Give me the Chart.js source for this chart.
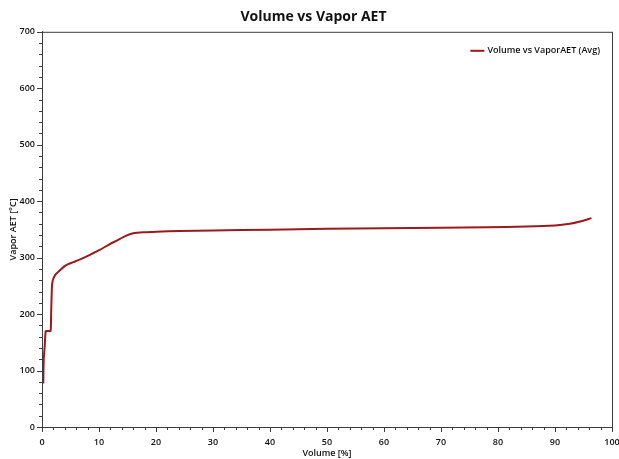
<!DOCTYPE html>
<html>
<head>
<meta charset="utf-8">
<script src="https://cdn.jsdelivr.net/npm/chart.js@4"></script>
<style>
  html, body { margin: 0; padding: 0; background: #fff; }
  #wrap { width: 619px; height: 459px; }
</style>
</head>
<body>
<div id="wrap"><canvas id="chart" width="619" height="459"></canvas></div>
<script>
const volume = [0.23, 0.3, 0.47, 0.65, 1.0, 1.5, 1.6, 1.75, 1.9, 2.3, 3.2, 4.3, 5.5, 6.7, 8.4, 10.2, 11.9, 13.1, 14.6, 16.0, 17.8, 20.1, 24.2, 30, 40, 50, 60, 70, 78, 85, 90, 92.6, 94.4, 96.4];
const vaporAET = [77, 119, 142, 170, 170, 170, 200, 250, 260, 269, 278, 287, 292, 297, 305, 314, 324, 330, 338, 343, 345, 346, 347, 348, 349.5, 351, 352, 353, 353.7, 355, 357, 360, 364, 370];
const xTicks = [0, 10, 20, 30, 40, 50, 60, 70, 80, 90, 100];
const yTicks = [0, 100, 200, 300, 400, 500, 600, 700];

const lineColor = '#9a1a1f';
const axisColor = '#3c3c3c';
const font = '"Open Sans", "DejaVu Sans", sans-serif';

const points = volume.map((v, i) => ({ x: v, y: vaporAET[i] }));

// minor ticks, the box around the plot and the legend in the top right corner
const frame = {
    id: 'frame',
    afterDraw(chart) {
        const ctx = chart.ctx;
        const a = chart.chartArea;
        const xs = chart.scales.x, ys = chart.scales.y;
        ctx.save();
        ctx.strokeStyle = axisColor;
        ctx.lineWidth = 1;
        ctx.strokeRect(a.left + 0.5, a.top + 0.5, a.right - a.left, a.bottom - a.top);
        ctx.beginPath();
        for (let v = 0; v <= 100; v += 2) {
            const px = Math.round(xs.getPixelForValue(v)) + 0.5;
            ctx.moveTo(px, a.bottom);
            ctx.lineTo(px, a.bottom + (v % 10 === 0 ? 5 : 3));
        }
        for (let v = 0; v <= 700; v += 20) {
            const py = Math.round(ys.getPixelForValue(v)) + 0.5;
            ctx.moveTo(a.left, py);
            ctx.lineTo(a.left - (v % 100 === 0 ? 5 : 3), py);
        }
        ctx.stroke();

        const ds = chart.data.datasets[0];
        ctx.font = '600 9px ' + font;
        const tw = ctx.measureText(ds.label).width;
        const tx = a.right - 12 - tw;
        const ly = a.top + 19;
        ctx.strokeStyle = ds.borderColor;
        ctx.lineWidth = 2;
        ctx.beginPath();
        ctx.moveTo(tx - 17, ly);
        ctx.lineTo(tx - 3, ly);
        ctx.stroke();
        ctx.fillStyle = '#111';
        ctx.textBaseline = 'middle';
        ctx.fillText(ds.label, tx, ly);
        ctx.restore();
    }
};

new Chart(document.getElementById('chart'), {
    type: 'scatter',
    data: {
        datasets: [{
            label: 'Volume vs VaporAET (Avg)',
            data: points,
            showLine: true,
            borderColor: lineColor,
            backgroundColor: lineColor,
            borderWidth: 2,
            pointRadius: 0,
            tension: 0.2
        }]
    },
    options: {
        responsive: false,
        animation: false,
        layout: { padding: { left: 8, right: 0, top: 0, bottom: 0 } },
        plugins: {
            title: {
                display: true,
                text: 'Volume vs Vapor AET',
                color: '#111',
                font: { family: font, size: 14, weight: 'bold' },
                padding: { top: 9, bottom: 6 }
            },
            legend: { display: false },
            tooltip: { enabled: false }
        },
        scales: {
            x: {
                type: 'linear',
                min: 0,
                max: 100,
                afterBuildTicks: s => { s.ticks = xTicks.map(v => ({ value: v })); },
                afterFit: s => { s.height = 32; s.paddingLeft = 0; s.paddingRight = 7; },
                grid: { display: false, drawOnChartArea: false, drawTicks: false },
                border: { color: axisColor },
                ticks: {
                    color: '#111',
                    padding: 10,
                    maxRotation: 0,
                    font: { family: font, size: 9, weight: '600' }
                },
                title: {
                    display: true,
                    text: 'Volume [%]',
                    color: '#111',
                    padding: { top: 0, bottom: 0 },
                    font: { family: font, size: 9, weight: '600' }
                }
            },
            y: {
                min: 0,
                max: 700,
                afterBuildTicks: s => { s.ticks = yTicks.map(v => ({ value: v })); },
                afterFit: s => { s.width = 34; },
                grid: { display: false, drawOnChartArea: false, drawTicks: false },
                border: { color: axisColor },
                ticks: {
                    color: '#111',
                    padding: 7,
                    font: { family: font, size: 9, weight: '600' }
                },
                title: {
                    display: true,
                    text: 'Vapor AET [°C]',
                    color: '#111',
                    padding: { top: 0, bottom: 0 },
                    font: { family: font, size: 9, weight: '600' }
                }
            }
        }
    },
    plugins: [frame]
});
</script>
</body>
</html>
